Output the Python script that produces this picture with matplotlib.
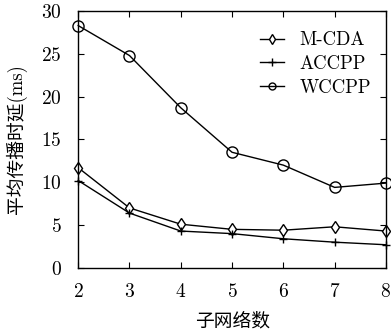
import numpy as np
import matplotlib.pyplot as plt

plt.rcParams['font.family'] = ['cmr10', 'Noto Sans CJK SC', 'DejaVu Sans']
plt.rcParams['mathtext.fontset'] = 'cm'
plt.rcParams['axes.formatter.use_mathtext'] = True
plt.rcParams['axes.unicode_minus'] = False

# 数据
subnets = [2, 3, 4, 5, 6, 7, 8]
mcda = [11.7, 7.0, 5.1, 4.5, 4.4, 4.8, 4.3]
accpp = [10.2, 6.4, 4.3, 4.0, 3.4, 3.0, 2.7]
wccpp = [28.3, 24.8, 18.7, 13.5, 12.0, 9.4, 9.9]

fig = plt.figure(figsize=(3.91, 3.34), dpi=100)
ax = fig.add_axes([0.2, 0.198, 0.787, 0.769])

ax.plot(subnets, mcda, color='black', lw=1, marker='d', ms=6, mfc='white', mec='black', mew=1, label='M-CDA', clip_on=False)
ax.plot(subnets, accpp, color='black', lw=1, marker='+', ms=6, mew=1, label='ACCPP', clip_on=False)
ax.plot(subnets, wccpp, color='black', lw=1, marker='o', ms=8, mfc='none', mec='black', mew=1, label='WCCPP', clip_on=False)

ax.set_xlim(2, 8)
ax.set_ylim(0, 30)
ax.set_xticks(subnets)
ax.set_yticks([0, 5, 10, 15, 20, 25, 30])
ax.tick_params(direction='in', top=True, right=True, labelsize=14, length=4)
ax.tick_params(axis='x', pad=11)
ax.tick_params(axis='y', pad=12)
for s in ax.spines.values():
    s.set_linewidth(1)

ax.set_xlabel('子网络数', fontsize=13.5)
ax.set_ylabel('平均传播时延(ms)', fontsize=13.5)
ax.xaxis.set_label_coords(0.5, -0.175)
ax.yaxis.set_label_coords(-0.168, 0.5)

leg = ax.legend(loc='upper right', bbox_to_anchor=(1.0, 0.98), frameon=False, fontsize=13.5,
                handlelength=1.3, handletextpad=0.8, labelspacing=0.32,
                borderaxespad=0.5, borderpad=0.3)
for ln, ms in zip(leg.get_lines(), [5, 6, 5]):
    ln.set_markersize(ms)

fig.savefig('out.png', dpi=100)
